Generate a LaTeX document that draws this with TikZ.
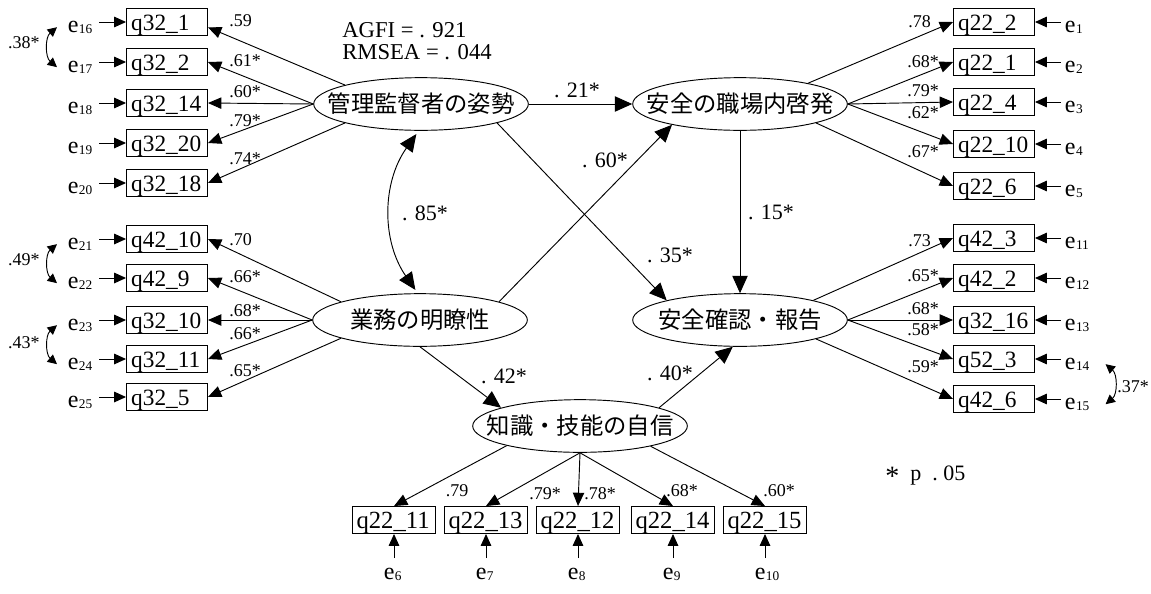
\documentclass[tikz,border=0pt]{standalone}
\usepackage{fontspec}
\setmainfont{Liberation Serif}
\newfontfamily\jpf{Noto Sans CJK JP}
\usetikzlibrary{arrows.meta,shapes.geometric,calc}
\newcommand\erl[1]{e\kern0.3pt{\fontsize{10}{10}\selectfont\raisebox{-1.2pt}{#1}}}
\newcommand\latx[1]{\makebox[0pt][c]{#1}}
\tikzset{
  lat/.style={draw, ellipse, line width=0.7pt, minimum width=161pt, minimum height=39.5pt, inner sep=0pt, font=\jpf\fontsize{17.5}{18}\selectfont},
  obs/.style={draw, line width=0.7pt, minimum height=20.25pt, inner xsep=3.5pt, inner ysep=0pt, text width=53.75pt, align=left, text height=14.5pt, text depth=1.5pt, font=\fontsize{17.5}{18}\selectfont},
  obsb/.style={obs, inner xsep=3pt, text width=56.25pt, font=\fontsize{18.5}{19}\selectfont},
  err/.style={inner sep=2pt, anchor=base west, font=\fontsize{18}{18}\selectfont},
  ld/.style={inner sep=0pt, font=\fontsize{13.5}{14}\selectfont},
  ldw/.style={ld, anchor=west},
  pl/.style={inner sep=0pt, font=\fontsize{16.5}{17}\selectfont},
  larr/.style={line width=0.7pt, -{Triangle[length=10pt,width=8.5pt]}},
  sarr/.style={line width=0.7pt, -{Triangle[length=13pt,width=11.5pt]}},
  earr/.style={line width=0.7pt, -{Triangle[length=9pt,width=8pt]}},
  cov/.style={line width=0.7pt, {Triangle[length=7pt,width=7pt]}-{Triangle[length=7pt,width=7pt]}},
}
\begin{document}
\begin{tikzpicture}[x=0.75pt,y=-0.75pt]
\useasboundingbox (0,0) rectangle (1151,593);
% latent variables
\node[lat] (K) at (421,104) {\latx{管理監督者の姿勢}};
\node[lat] (S) at (740,104) {\latx{安全の職場内啓発}};
\node[lat] (G) at (420,320) {\latx{業務の明瞭性}};
\node[lat] (A) at (740,320) {\latx{安全確認・報告}};
\node[lat] (C) at (580,426) {\latx{知識・技能の自信}};
% left top boxes
\node[obs] (l1) at (167,22) {q32\_1};
\node[obs] (l2) at (167,62) {q32\_2};
\node[obs] (l3) at (167,103) {q32\_14};
\node[obs] (l4) at (167,143) {q32\_20};
\node[obs] (l5) at (167,183) {q32\_18};
\node[err] (e16) at (65,32) {\erl{16}};
\node[err] (e17) at (65,72) {\erl{17}};
\node[err] (e18) at (65,113) {\erl{18}};
\node[err] (e19) at (65,153) {\erl{19}};
\node[err] (e20) at (65,193) {\erl{20}};
% left bottom boxes
\node[obs] (m1) at (167,239) {q42\_10};
\node[obs] (m2) at (167,278) {q42\_9};
\node[obs] (m3) at (167,320) {q32\_10};
\node[obs] (m4) at (167,359) {q32\_11};
\node[obs] (m5) at (167,397) {q32\_5};
\node[err] (e21) at (65,249) {\erl{21}};
\node[err] (e22) at (65,288) {\erl{22}};
\node[err] (e23) at (65,330) {\erl{23}};
\node[err] (e24) at (65,369) {\erl{24}};
\node[err] (e25) at (65,407) {\erl{25}};
% right top boxes
\node[obs] (r1) at (994,22) {q22\_2};
\node[obs] (r2) at (994,62) {q22\_1};
\node[obs] (r3) at (994,102) {q22\_4};
\node[obs] (r4) at (994,144) {q22\_10};
\node[obs] (r5) at (994,186) {q22\_6};
\node[err] (e1) at (1062,32) {\erl{1}};
\node[err] (e2) at (1062,72) {\erl{2}};
\node[err] (e3) at (1062,112) {\erl{3}};
\node[err] (e4) at (1062,154) {\erl{4}};
\node[err] (e5) at (1062,196) {\erl{5}};
% right bottom boxes
\node[obs] (s1) at (994,238) {q42\_3};
\node[obs] (s2) at (994,278) {q42\_2};
\node[obs] (s3) at (994,320) {q32\_16};
\node[obs] (s4) at (994,359) {q52\_3};
\node[obs] (s5) at (994,399) {q42\_6};
\node[err] (e11) at (1062,248) {\erl{11}};
\node[err] (e12) at (1062,288) {\erl{12}};
\node[err] (e13) at (1062,330) {\erl{13}};
\node[err] (e14) at (1062,369) {\erl{14}};
\node[err] (e15) at (1062,409) {\erl{15}};
% bottom boxes
\node[obsb] (b1) at (394,520) {q22\_11};
\node[obsb] (b2) at (486,520) {q22\_13};
\node[obsb] (b3) at (578,520) {q22\_12};
\node[obsb] (b4) at (673,520) {q22\_14};
\node[obsb] (b5) at (765,520) {q22\_15};
\node[err] (e6) at (381,579) {\erl{6}};
\node[err] (e7) at (473,579) {\erl{7}};
\node[err] (e8) at (565,579) {\erl{8}};
\node[err] (e9) at (660,579) {\erl{9}};
\node[err] (e10) at (752,579) {\erl{10}};
% error arrows
\foreach \e/\b in {e16/l1,e17/l2,e18/l3,e19/l4,e20/l5,e21/m1,e22/m2,e23/m3,e24/m4,e25/m5}
  \draw[earr, shorten <=3pt] (\e.east |- \b.west) -- (\b.west);
\foreach \e/\b in {e1/r1,e2/r2,e3/r3,e4/r4,e5/r5,e11/s1,e12/s2,e13/s3,e14/s4,e15/s5}
  \draw[earr, shorten <=1pt] (\e.west |- \b.east) -- (\b.east);
\foreach \e/\b in {e6/b1,e7/b2,e8/b3,e9/b4,e10/b5}
  \draw[earr, shorten <=5pt] (\b.south |- \e.north) -- (\b.south);
% loadings
\draw[larr] (K.166) -- ([yshift=-4pt]l1.east);
\draw[larr] (K.west) -- (l2.east);
\draw[larr] (K.west) -- (l3.east);
\draw[larr] (K.west) -- (l4.east);
\draw[larr] (K.194) -- (l5.east);
\draw[larr] (G.167) -- (m1.east);
\draw[larr] (G.west) -- (m2.east);
\draw[larr] (G.west) -- (m3.east);
\draw[larr] (G.west) -- (m4.east);
\draw[larr] (G.193) -- (m5.east);
\draw[larr] (S.17) -- (r1.west);
\draw[larr] (S.east) -- (r2.west);
\draw[larr] (S.east) -- (r3.west);
\draw[larr] (S.east) -- (r4.west);
\draw[larr] (S.346) -- (r5.west);
\draw[larr] (A.15) -- (s1.west);
\draw[larr] (A.east) -- (s2.west);
\draw[larr] (A.east) -- (s3.west);
\draw[larr] (A.east) -- (s4.west);
\draw[larr] (A.346) -- (s5.west);
\draw[larr] (C.195) -- (b1.north);
\draw[larr] (C.south) -- (b2.north);
\draw[larr] (C.south) -- (b3.north);
\draw[larr] (C.south) -- (b4.north);
\draw[larr] (C.344) -- (b5.north);
% structural paths
\draw[sarr] (K.east) -- (S.west);
\draw[sarr] (K.346) -- (A.165);
\draw[sarr] (G.13) -- (S.197);
\draw[sarr] (S.south) -- (A.north);
\draw[sarr] (G.south) -- (C.167);
\draw[sarr] (C.13) -- (A.255);
\draw[line width=0.7pt, {Triangle[length=13pt,width=11.5pt]}-{Triangle[length=13pt,width=11.5pt]}, shorten <=3pt, shorten >=3pt] (K.265) to[bend right=35] (G.95);
% covariances between errors
\draw[cov] ([xshift=-6pt]e16.west) to[bend right=50] ([xshift=-6pt]e17.west);
\draw[cov] ([xshift=-6pt]e21.west) to[bend right=50] ([xshift=-6pt]e22.west);
\draw[cov] ([xshift=-6pt]e23.west) to[bend right=50] ([xshift=-6pt]e24.west);
\draw[cov] ([xshift=10pt]e14.east) to[bend left=50] ([xshift=10pt]e15.east);
\node[ld] (c1) at (24,43) {.38*};
\node[ld] (c2) at (24,260) {.49*};
\node[ld] (c3) at (24,343) {.43*};
\node[ld] (c4) at (1133,387) {.37*};
% loading labels
\node[ldw] (ll1) at (229,21) {.59};
\node[ldw] (ll2) at (229,61) {.61*};
\node[ldw] (ll3) at (229,92) {.60*};
\node[ldw] (ll4) at (229,121) {.79*};
\node[ldw] (ll5) at (229,159) {.74*};
\node[ldw] (lm1) at (229,240) {.70};
\node[ldw] (lm2) at (229,277) {.66*};
\node[ldw] (lm3) at (229,311) {.68*};
\node[ldw] (lm4) at (229,334) {.66*};
\node[ldw] (lm5) at (229,371) {.65*};
\node[ldw] (lr1) at (908,22) {.78};
\node[ldw] (lr2) at (907,62) {.68*};
\node[ldw] (lr3) at (907,91) {.79*};
\node[ldw] (lr4) at (907,113) {.62*};
\node[ldw] (lr5) at (907,152) {.67*};
\node[ldw] (ls1) at (908,241) {.73};
\node[ldw] (ls2) at (907,276) {.65*};
\node[ldw] (ls3) at (907,309) {.68*};
\node[ldw] (ls4) at (907,330) {.58*};
\node[ldw] (ls5) at (907,367) {.59*};
\node[ld] (lb1) at (457,491) {.79};
\node[ld] (lb2) at (545,494) {.79*};
\node[ld] (lb3) at (600,494) {.78*};
\node[ld] (lb4) at (682,491) {.68*};
\node[ld] (lb5) at (779,491) {.60*};
% path labels
\node[pl] (p1) at (577,90) {. 21*};
\node[pl] (p2) at (605,160) {. 60*};
\node[pl] (p3) at (425,213) {. 85*};
\node[pl] (p4) at (670,255) {. 35*};
\node[pl] (p5) at (771,212) {. 15*};
\node[pl] (p6) at (504,376) {. 42*};
\node[pl] (p7) at (670,373) {. 40*};
% fit indices and note
\node[anchor=base west, inner sep=0pt, font=\fontsize{17}{17}\selectfont] (fit1) at (342,37) {AGFI = . 921};
\node[anchor=base west, inner sep=0pt, font=\fontsize{17}{17}\selectfont] (fit2) at (342,59) {RMSEA = . 044};
\node[anchor=west, inner sep=0pt, font=\fontsize{16.5}{17}\selectfont] (note) at (885,476) {\raisebox{-3.5pt}{\fontsize{21}{21}\selectfont *}~~p~~.~05};
\end{tikzpicture}
\end{document}
